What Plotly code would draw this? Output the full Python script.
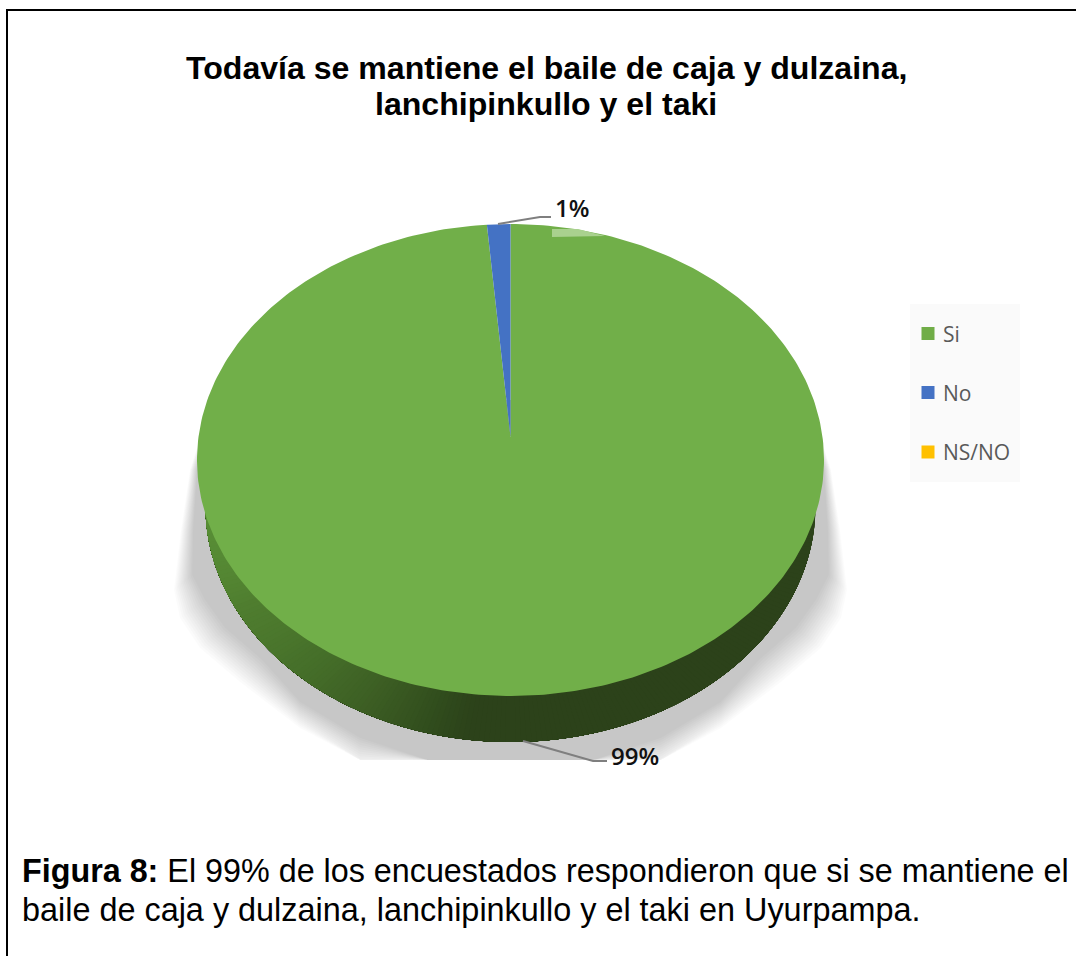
import numpy as np
import plotly.graph_objects as go

# Data
categories = ['Si', 'No', 'NS/NO']
values = [98.8, 1.2, 0]
colors = ['#70ad47', '#4472c4', '#ffc000']

title_lines = ['Todavía se mantiene el baile de caja y dulzaina,',
               'lanchipinkullo y el taki']
caption_lines = ['<b>Figura 8:</b> El 99% de los encuestados respondieron que si se mantiene el',
                 'baile de caja y dulzaina, lanchipinkullo y el taki en Uyurpampa.']

# Pie geometry, in page pixels (the axes run 0-1076 and 956-0)
CX, CY = 510.5, 460
RX, RY = 313.5, 236
APEX_Y = 437
WALL_RX, WALL_CY = 305, 506
TOP_FACE = '#71af49'

# Left half of the shadow outline, mirrored for the right half
SHADOW_Y_OUTER = [400, 470, 530, 590, 618, 648, 682, 728, 768, 790, 796]
SHADOW_X_OUTER = [212, 190, 181, 174, 180, 200, 240, 300, 360, 427, 510.5]
SHADOW_Y_INNER = [400, 470, 530, 575, 600, 628, 660, 702, 738, 762, 772]
SHADOW_X_INNER = [212, 197, 193, 192, 205, 225, 262, 300, 360, 427, 510.5]


def rim(angle, rx=RX, ry=RY, cx=CX, cy=CY):
    # angle in degrees, clockwise from the top of the ellipse
    a = np.radians(angle)
    return cx + rx * np.sin(a), cy - ry * np.cos(a)


def wall_color(x):
    # side wall goes from dark under the middle to lighter on the left
    xs = [205, 237, 293, 360, 440, 470]
    r = np.interp(x, xs, [0x58, 0x4f, 0x46, 0x3d, 0x2f, 0x2c])
    g = np.interp(x, xs, [0x8e, 0x7d, 0x70, 0x5f, 0x4a, 0x42])
    b = np.interp(x, xs, [0x36, 0x2f, 0x2a, 0x24, 0x1c, 0x1a])
    return f'rgb({r:.0f},{g:.0f},{b:.0f})'


fig = go.Figure()

# Soft shadow under the pie, built from stacked see-through layers
for t in np.linspace(0, 1, 14):
    left_x = (1 - t) * np.array(SHADOW_X_OUTER) + t * np.array(SHADOW_X_INNER)
    left_y = (1 - t) * np.array(SHADOW_Y_OUTER) + t * np.array(SHADOW_Y_INNER)
    sx = np.concatenate([left_x, (2 * CX - left_x)[::-1]])
    sy = np.minimum(np.concatenate([left_y, left_y[::-1]]), 760)
    fig.add_trace(go.Scatter(x=sx, y=sy, mode='lines', fill='toself', line=dict(width=0),
                             fillcolor='rgba(0,0,0,0.0145)', hoverinfo='skip', showlegend=False))

# Side wall of the pie: each piece runs on to the far end so no seams show
for a0 in np.linspace(90, 270, 181)[:-1]:
    ang = np.linspace(a0, 270, 60)
    wx, wy = rim(ang, rx=WALL_RX, cy=WALL_CY)
    fig.add_trace(go.Scatter(x=np.concatenate([[CX], wx, [CX]]), y=np.concatenate([[WALL_CY], wy, [WALL_CY]]),
                             mode='lines', fill='toself', fillcolor=wall_color(wx[0]), line=dict(width=0),
                             hoverinfo='skip', showlegend=False))

# Top face, one slice per category
start = 0
total = sum(values)
for name, val, col in zip(categories, values, colors):
    sweep = val / total * 360
    if sweep > 0:
        ang = np.linspace(start, start + sweep, 361)
        fx, fy = rim(ang)
        fill = TOP_FACE if name == 'Si' else col
        fig.add_trace(go.Scatter(x=np.concatenate([[CX], fx, [CX]]), y=np.concatenate([[APEX_Y], fy, [APEX_Y]]),
                                 mode='lines', fill='toself', fillcolor=fill, line=dict(width=0),
                                 hoverinfo='skip', showlegend=False))
    start += sweep

# Leader lines
fig.add_trace(go.Scatter(x=[498, 540, 551], y=[224, 217, 217], mode='lines',
                         line=dict(color='#7f7f7f', width=2), hoverinfo='skip', showlegend=False))
fig.add_trace(go.Scatter(x=[523, 593, 607], y=[741, 761, 761], mode='lines',
                         line=dict(color='#7f7f7f', width=2), hoverinfo='skip', showlegend=False))

label_font = dict(family='Open Sans', size=24, color='#111111', weight=600)
fig.add_annotation(x=571.5, y=207, text=f'{round(values[1])}%', showarrow=False, font=label_font)
fig.add_annotation(x=635, y=755, text=f'{round(values[0])}%', showarrow=False, font=label_font)

# Hand-placed legend, the native one cannot sit its text this close to the swatch
for name, col, y in zip(categories, colors, [333.5, 392.5, 452]):
    fig.add_trace(go.Scatter(x=[928], y=[y], mode='markers', name=name, hoverinfo='skip', showlegend=False,
                             marker=dict(color=col, size=13, symbol='square')))
    fig.add_annotation(x=940.5, y=y, text=name, showarrow=False, xanchor='left',
                       font=dict(family='Open Sans', size=21, color='#595959'))

# Title and caption
for line, y in zip(title_lines, [68, 104]):
    fig.add_annotation(x=546, y=y, text=f'<b>{line}</b>', showarrow=False,
                       font=dict(family='Liberation Sans', size=32.1, color='black'))
for line, y, size in zip(caption_lines, [871, 910], [32.3, 32.4]):
    fig.add_annotation(x=19.5, y=y, text=line, showarrow=False, xanchor='left',
                       font=dict(family='Liberation Sans', size=size, color='black'))

fig.update_layout(
    width=1076, height=956,
    margin=dict(l=0, r=0, t=0, b=0),
    paper_bgcolor='white', plot_bgcolor='white',
    showlegend=False,
    xaxis=dict(range=[0, 1076], visible=False, fixedrange=True),
    yaxis=dict(range=[956, 0], visible=False, fixedrange=True),
    shapes=[
        dict(type='line', x0=6, x1=1076, y0=10, y1=10, line=dict(color='black', width=2)),
        dict(type='line', x0=7, x1=7, y0=9, y1=956, line=dict(color='black', width=2)),
        dict(type='rect', x0=910, x1=1020, y0=304, y1=482, fillcolor='#fafafa',
             line=dict(width=0), layer='below'),
        dict(type='path', path='M 552 229 L 578 229 L 605 236 L 552 237 Z',
             fillcolor='#a9d18e', line=dict(width=0)),
    ],
)

fig.write_html("out.html", config=dict(displayModeBar=False),
               post_script="document.body.style.margin='0';")
